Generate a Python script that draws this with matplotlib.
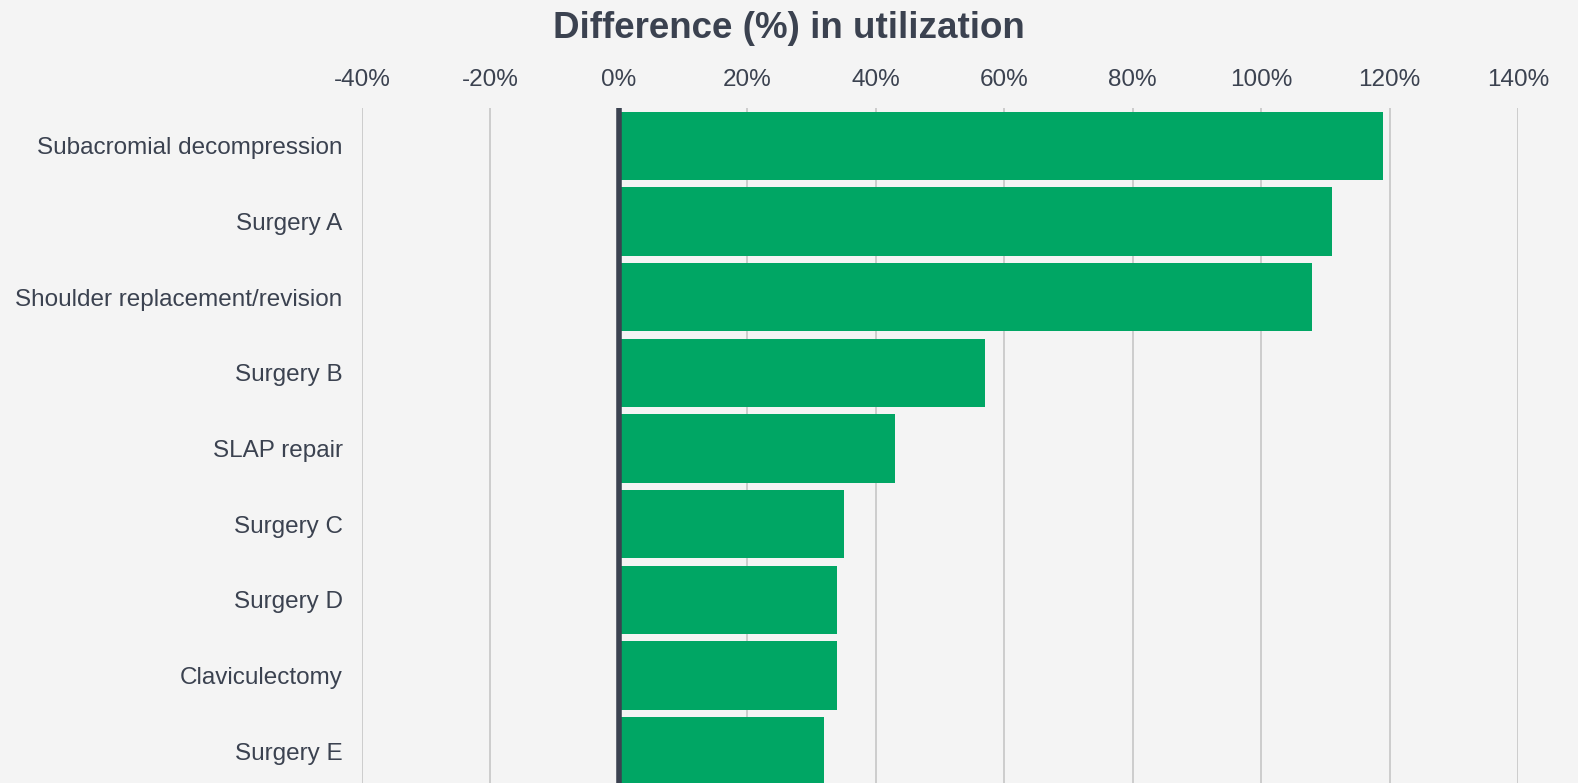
import matplotlib
matplotlib.use("Agg")
import matplotlib.pyplot as plt
from matplotlib.ticker import FuncFormatter, MultipleLocator

categories = ["Subacromial decompression", "Surgery A", "Shoulder replacement/revision",
              "Surgery B", "SLAP repair", "Surgery C", "Surgery D", "Claviculectomy", "Surgery E"]
values = [119, 111, 108, 57, 43, 35, 34, 34, 32]
title = "Difference (%) in utilization"

BG = "#F4F4F4"
TXT = "#3B4250"
GREEN = "#00A664"
GRID = "#C9C9C9"

plt.rcParams['font.family'] = ['Liberation Sans', 'DejaVu Sans']

W, H = 1578, 783
fig = plt.figure(figsize=(W / 100, H / 100), dpi=100, facecolor=BG)
ax = fig.add_axes([362 / W, 0, (1518 - 362) / W, (H - 108) / H], facecolor=BG)

y = list(range(len(categories)))
ax.barh(y, values, height=0.9, color=GREEN, zorder=2)
ax.set_xlim(-40, 140)
ax.set_ylim(8.42, -0.5)
ax.xaxis.set_major_locator(MultipleLocator(20))
ax.xaxis.set_major_formatter(FuncFormatter(lambda v, p: f"{int(round(v))}%"))
ax.xaxis.tick_top()
ax.grid(axis='x', color=GRID, linewidth=1.3, zorder=0)
ax.axvline(0, color=TXT, linewidth=4, zorder=3)
ax.set_yticks(y)
ax.set_yticklabels(categories)
ax.tick_params(axis='x', length=0, pad=12.5, labelsize=17.5, labelcolor=TXT)
ax.tick_params(axis='y', length=0, pad=14, labelsize=17.5, labelcolor=TXT)
for s in ax.spines.values():
    s.set_visible(False)

fig.text(0.5, 1 - 37.5 / H, title, ha='center', va='baseline', fontsize=26.5,
         fontweight='bold', color=TXT)

fig.savefig("out.png", dpi=100, facecolor=BG)
